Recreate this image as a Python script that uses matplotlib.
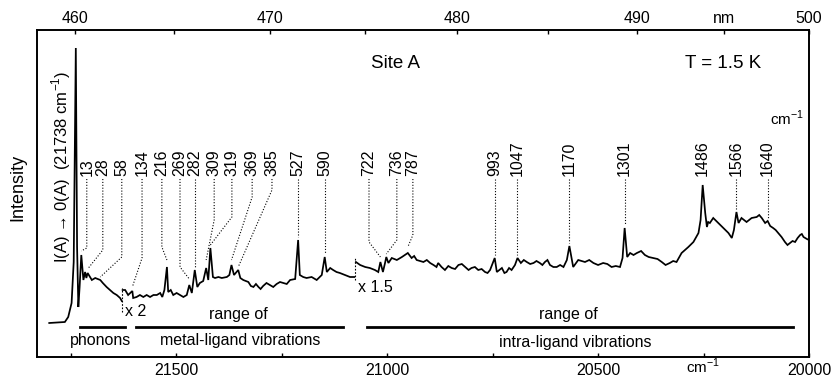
import numpy as np
import matplotlib
matplotlib.use("Agg")
import matplotlib.pyplot as plt
from matplotlib.ticker import FixedLocator, FixedFormatter, NullLocator
from matplotlib.transforms import blended_transform_factory

plt.rcParams['font.family'] = ['Liberation Sans', 'DejaVu Sans']
plt.rcParams['mathtext.fontset'] = 'custom'
plt.rcParams['mathtext.rm'] = 'Liberation Sans'

# ---- spectrum data (cm^-1, intensity in arbitrary units as plotted) ----
ORIGIN = 21738          # I(A) -> 0(A) electronic origin
origin_int = 309

peak_offsets = [13, 28, 58, 134, 216, 269, 282, 309, 319, 369, 385, 527, 590,
                722, 736, 787, 993, 1047, 1170, 1301, 1486, 1566, 1640]
peak_int = [102, 84, 77, 66, 90, 72, 87, 89, 109, 92, 87, 117, 100,
            95, 100, 104, 99, 99, 111, 129, 172, 145, 136]

# trace between the labelled lines, one pair of lists per gain setting
seg1_cm = [21801, 21764, 21756, 21748, 21743, 21735, 21732, 21729, 21720, 21716,
           21713, 21700, 21692, 21686, 21674, 21665, 21657, 21649, 21641, 21633,
           21629]
seg1_int = [34, 35, 40, 54, 95, 110, 50, 70, 77, 85,
            79, 77, 79, 78, 74, 70, 67, 64, 62, 59,
            56]

seg2_cm = [21627, 21621, 21614, 21602, 21594, 21586, 21578, 21570, 21562, 21554,
           21546, 21538, 21533, 21528, 21519, 21513, 21507, 21499, 21491, 21483,
           21475, 21463, 21450, 21444, 21436, 21424, 21413, 21408, 21400, 21392,
           21380, 21374, 21363, 21348, 21341, 21329, 21323, 21317, 21311, 21305,
           21300, 21294, 21286, 21278, 21270, 21262, 21254, 21246, 21238, 21230,
           21218, 21207, 21199, 21191, 21179, 21167, 21155, 21143, 21135, 21128,
           21120, 21112, 21100, 21088, 21078]
seg2_int = [67, 67, 62, 59, 60, 62, 60, 62, 60, 62,
            62, 64, 60, 67, 65, 67, 62, 64, 62, 60,
            62, 64, 70, 74, 76, 77, 80, 79, 80, 79,
            80, 82, 82, 79, 77, 75, 71, 70, 73, 70,
            68, 71, 74, 72, 70, 73, 75, 74, 73, 77,
            78, 82, 80, 79, 80, 77, 82, 85, 89, 87,
            85, 84, 82, 80, 80]

seg3_cm = [21074, 21064, 21052, 21041, 21029, 21021, 21010, 21005, 20997, 20989,
           20977, 20965, 20942, 20936, 20930, 20922, 20914, 20906, 20898, 20890,
           20883, 20879, 20871, 20863, 20855, 20847, 20839, 20831, 20823, 20815,
           20807, 20800, 20792, 20784, 20776, 20768, 20762, 20756, 20740, 20734,
           20728, 20722, 20717, 20711, 20705, 20697, 20683, 20676, 20669, 20661,
           20653, 20646, 20638, 20632, 20626, 20620, 20614, 20606, 20598, 20590,
           20582, 20574, 20562, 20559, 20547, 20531, 20521, 20511, 20500, 20488,
           20478, 20468, 20458, 20448, 20442, 20431, 20424, 20416, 20408, 20398,
           20389, 20380, 20369, 20359, 20349, 20340, 20330, 20322, 20314, 20302,
           20286, 20274, 20262, 20257, 20246, 20242, 20239, 20235, 20227, 20215,
           20203, 20191, 20183, 20178, 20167, 20160, 20148, 20136, 20124, 20118,
           20112, 20104, 20092, 20085, 20079, 20073, 20065, 20057, 20051, 20045,
           20039, 20033, 20027, 20021, 20017, 20013, 20009, 20005, 20000]
seg3_int = [95, 92, 90, 89, 87, 85, 85, 94, 94, 99,
            97, 100, 99, 101, 97, 96, 95, 97, 94, 92,
            90, 94, 90, 87, 91, 89, 88, 92, 93, 90,
            87, 89, 90, 87, 88, 85, 84, 87, 85, 87,
            89, 84, 85, 89, 87, 92, 94, 97, 95, 93,
            94, 96, 94, 92, 95, 97, 92, 90, 90, 92,
            90, 97, 97, 90, 97, 95, 97, 94, 92, 94,
            93, 90, 91, 90, 99, 100, 104, 102, 104, 106,
            102, 100, 99, 98, 95, 92, 94, 96, 95, 104,
            110, 115, 124, 137, 144, 130, 135, 134, 139, 134,
            129, 124, 119, 127, 134, 139, 135, 139, 140, 142,
            139, 134, 131, 129, 127, 124, 120, 115, 112, 114,
            116, 115, 119, 122, 123, 120, 119, 118, 117]

# spectrum pieces recorded with different gain
breaks_cm = [21628, 21076]
gain_labels = ["x 2", "x 1.5"]

# ---- label / leader layout ----
label_cm = [21712, 21674, 21629, 21581, 21534, 21491, None, 21410, 21368, 21320,
            21273, None, None, 21043, 20977, 20939, None, None, None, None,
            None, None, None]
kink_int = [109, 107, 100, 99, 110, 90, None, 137, 140, 160, 167, None, None,
            115, 117, 122, None, None, None, None, None, None, None]
end_int = [106, 88, 80, 70, 97, 78, 90, 97, 112, 97, 90, 120, 104,
           100, 103, 110, 102, 102, 114, 132, None, 148, 139]

fig = plt.figure(figsize=(8.34, 3.77), dpi=100)
ax = fig.add_axes([37 / 834, 20 / 377, 772 / 834, 327 / 377])

cm = np.array(seg1_cm + seg2_cm + seg3_cm + [ORIGIN]
              + [ORIGIN - o for o in peak_offsets], float)
inten = np.array(seg1_int + seg2_int + seg3_int + [origin_int] + peak_int, float)
order = np.argsort(-cm)
cm, inten = cm[order], inten[order]

edges = [np.inf] + breaks_cm + [-np.inf]
for hi, lo in zip(edges[:-1], edges[1:]):
    m = (cm < hi) & (cm >= lo)
    ax.plot(cm[m], inten[m], color='black', lw=1.25, solid_joinstyle='miter')

# gain change markers
ax.plot([breaks_cm[0]] * 2, [45, 69], color='black', lw=0.8, ls=(0, (1.5, 1.5)))
ax.plot([breaks_cm[1]] * 2, [77, 100], color='black', lw=0.8, ls=(0, (1.5, 1.5)))
ax.text(21621, 45, gain_labels[0], fontsize=11.5, ha='left', va='center')
ax.text(21069, 69, gain_labels[1], fontsize=11.5, ha='left', va='center')

# peak labels with dotted leaders
label_top = 178
for off, lx, kink, end in zip(peak_offsets, label_cm, kink_int, end_int):
    px = ORIGIN - off
    tx = px if lx is None else lx
    ax.text(tx, label_top + 3, str(off), rotation=90, fontsize=11.5,
            ha='center', va='bottom')
    if end is None:
        continue
    if kink is None:
        xs, ys = [tx, px], [label_top, end]
    else:
        xs, ys = [tx, tx, px], [label_top, kink, end]
    ax.plot(xs, ys, color='black', lw=0.8, ls=(0, (1, 1.6)))

# range bars
ax.plot([21728, 21621], [30, 30], color='black', lw=2)
ax.plot([21595, 21105], [30, 30], color='black', lw=2)
ax.plot([21048, 20039], [30, 30], color='black', lw=2)
ax.text(21679, 16, "phonons", fontsize=11.5, ha='center', va='center')
ax.text(21353, 42, "range of", fontsize=11.5, ha='center', va='center')
ax.text(21349, 16, "metal-ligand vibrations", fontsize=11.5, ha='center', va='center')
ax.text(20571, 43, "range of", fontsize=11.5, ha='center', va='center')
ax.text(20555, 14, "intra-ligand vibrations", fontsize=11.5, ha='center', va='center')

ax.text(20981, 294, "Site A", fontsize=13.5, ha='center', va='center')
ax.text(20204, 294, "T = 1.5 K", fontsize=13.5, ha='center', va='center')
ax.text(20052, 239, "cm$^{-1}$", fontsize=11, ha='center', va='center')
ax.text(21773, 190, "I(A) \u2192 0(A)  (21738 cm$^{-1}$)", rotation=90,
        fontsize=12, ha='center', va='center')

ax.set_xlim(21830, 20000)
ax.set_ylim(0, 327)
ax.yaxis.set_major_locator(NullLocator())
ax.set_ylabel("Intensity", fontsize=13)
ax.yaxis.set_label_coords(-0.014, 0.52)

ax.xaxis.set_major_locator(FixedLocator([21500, 21000, 20500, 20000]))
ax.xaxis.set_minor_locator(FixedLocator([21750, 21250, 20750, 20250]))
ax.tick_params(axis='x', which='both', direction='in', labelsize=11.5, pad=4,
               length=3, width=1)
# unit label sits under the 20250 minor tick
ax.text(20250, 1 / 377, "cm$^{-1}$", fontsize=11, ha='center', va='bottom',
        transform=blended_transform_factory(ax.transData, fig.transFigure))

# wavelength scale on top
ax2 = ax.twiny()
ax2.set_xlim(ax.get_xlim())
nm_major = [460, 470, 480, 490, 500]
nm_minor = [465, 475, 485, 495]
ax2.xaxis.set_major_locator(FixedLocator([1e7 / n for n in nm_major]))
ax2.xaxis.set_major_formatter(FixedFormatter([str(n) for n in nm_major]))
ax2.xaxis.set_minor_locator(FixedLocator([1e7 / n for n in nm_minor]))
ax2.xaxis.set_minor_formatter(FixedFormatter(['', '', '', 'nm']))
ax2.tick_params(axis='x', which='both', direction='in', labelsize=11.5, pad=3,
                length=3, width=1)

for a in (ax, ax2):
    for s in a.spines.values():
        s.set_linewidth(1.2)

fig.savefig("out.png", dpi=100)
